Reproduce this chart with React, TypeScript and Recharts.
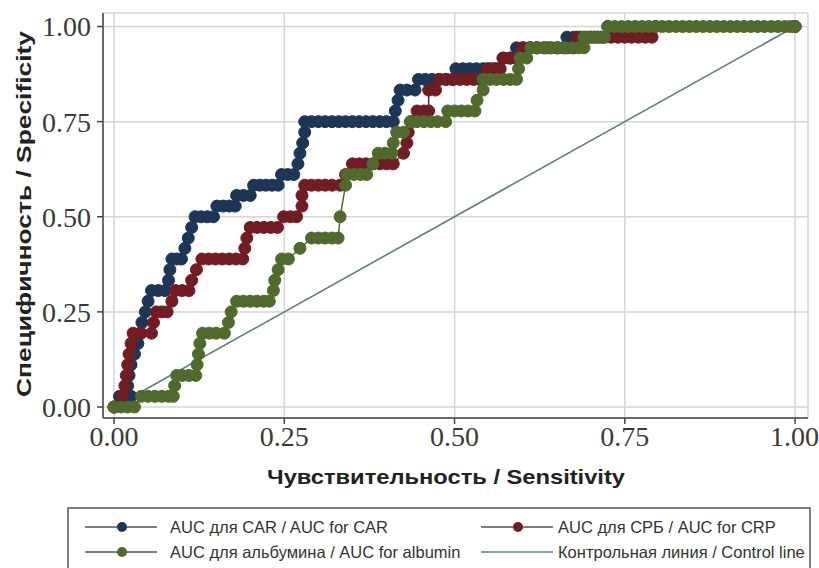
import { ComposedChart, Line, XAxis, YAxis, CartesianGrid } from 'recharts'

// [sensitivity, specificity]
const carPoints: [number, number][] = [
    [0, 0], [0.008, 0.028], [0.018, 0.028], [0.025, 0.028],
    [0.02, 0.056], [0.022, 0.083], [0.025, 0.111], [0.03, 0.139], [0.035, 0.167],
    [0.038, 0.194], [0.041, 0.222], [0.046, 0.25], [0.05, 0.278], [0.055, 0.306],
    [0.065, 0.306], [0.075, 0.306], [0.08, 0.333], [0.082, 0.361], [0.085, 0.389],
    [0.092, 0.389], [0.099, 0.389], [0.104, 0.417], [0.109, 0.444], [0.114, 0.472],
    [0.119, 0.5], [0.128, 0.5], [0.137, 0.5], [0.146, 0.5], [0.151, 0.528],
    [0.16, 0.528], [0.169, 0.528], [0.178, 0.528], [0.18, 0.556], [0.19, 0.556],
    [0.2, 0.556], [0.205, 0.583], [0.214, 0.583], [0.223, 0.583], [0.232, 0.583],
    [0.241, 0.583], [0.246, 0.611], [0.255, 0.611], [0.264, 0.611], [0.27, 0.639],
    [0.273, 0.667], [0.277, 0.694], [0.28, 0.722], [0.28, 0.75], [0.29, 0.75],
    [0.3, 0.75], [0.31, 0.75], [0.32, 0.75], [0.33, 0.75], [0.34, 0.75],
    [0.35, 0.75], [0.36, 0.75], [0.37, 0.75], [0.38, 0.75], [0.39, 0.75],
    [0.4, 0.75], [0.41, 0.75], [0.413, 0.778], [0.417, 0.806], [0.42, 0.833],
    [0.43, 0.833], [0.442, 0.833], [0.447, 0.861], [0.457, 0.861], [0.467, 0.861],
    [0.477, 0.861], [0.487, 0.861], [0.497, 0.861], [0.502, 0.889], [0.512, 0.889],
    [0.522, 0.889], [0.532, 0.889], [0.542, 0.889], [0.552, 0.889], [0.562, 0.889],
    [0.571, 0.917], [0.581, 0.917], [0.591, 0.944], [0.601, 0.944], [0.611, 0.944],
    [0.621, 0.944], [0.631, 0.944], [0.641, 0.944], [0.651, 0.944], [0.66, 0.944],
    [0.665, 0.972], [0.675, 0.972], [0.685, 0.972], [0.695, 0.972], [0.705, 0.972],
    [0.715, 0.972], [0.725, 1], [1, 1],
]

const crpPoints: [number, number][] = [
    [0, 0], [0.012, 0.028], [0.016, 0.056], [0.018, 0.083], [0.02, 0.111],
    [0.022, 0.139], [0.025, 0.167], [0.028, 0.194], [0.04, 0.194], [0.055, 0.194],
    [0.058, 0.222], [0.062, 0.25], [0.07, 0.25], [0.078, 0.25], [0.085, 0.278],
    [0.09, 0.306], [0.1, 0.306], [0.11, 0.306], [0.114, 0.333], [0.121, 0.361],
    [0.129, 0.389], [0.139, 0.389], [0.149, 0.389], [0.159, 0.389], [0.169, 0.389],
    [0.179, 0.389], [0.189, 0.389], [0.192, 0.417], [0.195, 0.444], [0.2, 0.472],
    [0.21, 0.472], [0.22, 0.472], [0.23, 0.472], [0.24, 0.472], [0.249, 0.5],
    [0.259, 0.5], [0.268, 0.5], [0.276, 0.528], [0.276, 0.556], [0.28, 0.583],
    [0.29, 0.583], [0.3, 0.583], [0.31, 0.583], [0.32, 0.583], [0.332, 0.583],
    [0.34, 0.611], [0.35, 0.639], [0.36, 0.639], [0.37, 0.639], [0.38, 0.639],
    [0.39, 0.639], [0.4, 0.639], [0.41, 0.639], [0.425, 0.667], [0.43, 0.694],
    [0.432, 0.722], [0.437, 0.75], [0.445, 0.778], [0.455, 0.778], [0.462, 0.778],
    [0.462, 0.833], [0.472, 0.833], [0.478, 0.861], [0.488, 0.861], [0.498, 0.861],
    [0.508, 0.861], [0.518, 0.861], [0.528, 0.861], [0.537, 0.861], [0.548, 0.889],
    [0.558, 0.889], [0.567, 0.889], [0.572, 0.917], [0.582, 0.917], [0.59, 0.917],
    [0.6, 0.944], [0.61, 0.944], [0.62, 0.944], [0.635, 0.944], [0.65, 0.944],
    [0.665, 0.944], [0.675, 0.944], [0.68, 0.972], [0.69, 0.972], [0.7, 0.972],
    [0.71, 0.972], [0.72, 0.972], [0.73, 0.972], [0.74, 0.972], [0.75, 0.972],
    [0.76, 0.972], [0.77, 0.972], [0.78, 0.972], [0.79, 0.972], [0.795, 1], [1, 1],
]

const albuminPoints: [number, number][] = [
    [0, 0], [0.01, 0], [0.02, 0], [0.03, 0], [0.04, 0.028], [0.05, 0.028],
    [0.06, 0.028], [0.07, 0.028], [0.08, 0.028], [0.087, 0.028], [0.089, 0.056],
    [0.092, 0.083], [0.1, 0.083], [0.11, 0.083], [0.12, 0.083], [0.122, 0.111],
    [0.124, 0.139], [0.126, 0.167], [0.13, 0.194], [0.14, 0.194], [0.15, 0.194],
    [0.162, 0.194], [0.168, 0.222], [0.172, 0.25], [0.18, 0.278], [0.19, 0.278],
    [0.2, 0.278], [0.21, 0.278], [0.22, 0.278], [0.228, 0.278], [0.234, 0.306],
    [0.236, 0.333], [0.241, 0.361], [0.246, 0.389], [0.256, 0.389], [0.273, 0.417],
    [0.29, 0.444], [0.3, 0.444], [0.31, 0.444], [0.32, 0.444], [0.329, 0.444],
    [0.332, 0.5], [0.34, 0.583], [0.342, 0.611], [0.352, 0.611], [0.362, 0.611],
    [0.371, 0.611], [0.38, 0.639], [0.388, 0.667], [0.398, 0.667], [0.408, 0.667],
    [0.41, 0.694], [0.415, 0.722], [0.425, 0.722], [0.435, 0.75], [0.445, 0.75],
    [0.455, 0.75], [0.465, 0.75], [0.475, 0.75], [0.487, 0.75], [0.49, 0.778],
    [0.5, 0.778], [0.51, 0.778], [0.52, 0.778], [0.53, 0.778], [0.533, 0.806],
    [0.542, 0.833], [0.542, 0.861], [0.552, 0.861], [0.562, 0.861], [0.572, 0.861],
    [0.582, 0.861], [0.591, 0.861], [0.594, 0.889], [0.596, 0.917], [0.606, 0.917],
    [0.612, 0.944], [0.622, 0.944], [0.632, 0.944], [0.642, 0.944], [0.652, 0.944],
    [0.662, 0.944], [0.672, 0.944], [0.682, 0.944], [0.69, 0.944], [0.69, 0.972],
    [0.7, 0.972], [0.71, 0.972], [0.72, 0.972], [0.725, 1], [0.735, 1], [0.745, 1],
    [0.755, 1], [0.765, 1], [0.775, 1], [0.785, 1], [0.795, 1], [0.805, 1],
    [0.815, 1], [0.825, 1], [0.835, 1], [0.845, 1], [0.855, 1], [0.865, 1],
    [0.875, 1], [0.885, 1], [0.895, 1], [0.905, 1], [0.915, 1], [0.925, 1],
    [0.935, 1], [0.945, 1], [0.955, 1], [0.965, 1], [0.975, 1], [0.985, 1],
    [0.993, 1], [1, 1],
]

const controlPoints: [number, number][] = [[0, 0], [1, 1]]

const axisTicks = [0, 0.25, 0.5, 0.75, 1]

const seriesNames = [
    'AUC для CAR / AUC for CAR',
    'AUC для СРБ / AUC for CRP',
    'AUC для альбумина / AUC for albumin',
    'Контрольная линия / Control line',
]

const colors = {
    car: '#1d3656',
    crp: '#701c22',
    albumin: '#4f6a2c',
    control: '#5f7e7a',
}

const toRows = (pts: [number, number][]) => pts.map(([x, y]) => ({ x, y }))

const tickFont = { fontFamily: 'Liberation Serif', fontSize: 28, fill: '#3a3a3a' }

function YTitle() {
    return (
        <text
            x={23}
            y={214}
            transform="rotate(-90 23 214)"
            textAnchor="middle"
            dominantBaseline="central"
            fontFamily="Liberation Sans"
            fontWeight="bold"
            fontSize={21}
            textLength={366}
            lengthAdjust="spacingAndGlyphs"
            fill="#222"
        >
            Специфичность / Specificity
        </text>
    )
}

function XTitle() {
    return (
        <text
            x={446}
            y={484}
            textAnchor="middle"
            fontFamily="Liberation Sans"
            fontWeight="bold"
            fontSize={21}
            textLength={358}
            lengthAdjust="spacingAndGlyphs"
            fill="#222"
        >
            Чувствительность / Sensitivity
        </text>
    )
}

function LegendBox() {
    const items = [
        { name: seriesNames[0], color: colors.car, dot: true, x: 85, tx: 170, y: 527 },
        { name: seriesNames[1], color: colors.crp, dot: true, x: 481, tx: 558, y: 527 },
        { name: seriesNames[2], color: colors.albumin, dot: true, x: 85, tx: 170, y: 552 },
        { name: seriesNames[3], color: colors.control, dot: false, x: 481, tx: 558, y: 552 },
    ]
    return (
        <svg width={819} height={568} style={{ position: 'absolute', left: 0, top: 0, pointerEvents: 'none' }}>
            <rect x={68} y={508} width={742} height={80} fill="none" stroke="#555" strokeWidth={1.5} />
            {items.map((it) => (
                <g key={it.name}>
                    <line x1={it.x} x2={it.x + 72} y1={it.y} y2={it.y} stroke={it.dot ? '#555' : it.color} strokeWidth={1.5} />
                    {it.dot && <circle cx={it.x + 37} cy={it.y} r={5} fill={it.color} />}
                    <text
                        x={it.tx}
                        y={it.y}
                        dominantBaseline="central"
                        fontFamily="Liberation Sans"
                        fontSize={16.5}
                        fill="#333"
                    >
                        {it.name}
                    </text>
                </g>
            ))}
        </svg>
    )
}

export default function App() {
    const dot = (c: string) => ({ r: 6, fill: c, stroke: c, strokeWidth: 1 })
    return (
        <div style={{ position: 'absolute', left: 0, top: 0, width: 819, height: 568, background: '#fff' }}>
            <ComposedChart width={819} height={568} margin={{ top: 13, right: 11, left: 0, bottom: 0 }}>
                <CartesianGrid stroke="#d6d6d6" strokeWidth={1.5} />
                <XAxis
                    type="number"
                    dataKey="x"
                    domain={[-0.0162, 1.019]}
                    ticks={axisTicks}
                    allowDataOverflow
                    height={150}
                    tick={tickFont}
                    tickFormatter={(v: number) => v.toFixed(2)}
                    stroke="#444"
                    strokeWidth={1.5}
                    label={<XTitle />}
                />
                <YAxis
                    type="number"
                    dataKey="y"
                    domain={[-0.0289, 1.0355]}
                    ticks={axisTicks}
                    allowDataOverflow
                    width={103}
                    tick={tickFont}
                    tickMargin={6}
                    tickFormatter={(v: number) => v.toFixed(2)}
                    stroke="#444"
                    strokeWidth={1.5}
                    label={<YTitle />}
                />
                <Line data={toRows(carPoints)} dataKey="y" name={seriesNames[0]} stroke={colors.car} strokeWidth={1.5} dot={dot(colors.car)} activeDot={false} isAnimationActive={false} />
                <Line data={toRows(crpPoints)} dataKey="y" name={seriesNames[1]} stroke={colors.crp} strokeWidth={1.5} dot={dot(colors.crp)} activeDot={false} isAnimationActive={false} />
                <Line data={toRows(albuminPoints)} dataKey="y" name={seriesNames[2]} stroke={colors.albumin} strokeWidth={1.5} dot={dot(colors.albumin)} activeDot={false} isAnimationActive={false} />
                <Line data={toRows(controlPoints)} dataKey="y" name={seriesNames[3]} stroke={colors.control} strokeWidth={1.6} dot={false} activeDot={false} isAnimationActive={false} />
            </ComposedChart>
            <LegendBox />
        </div>
    )
}
